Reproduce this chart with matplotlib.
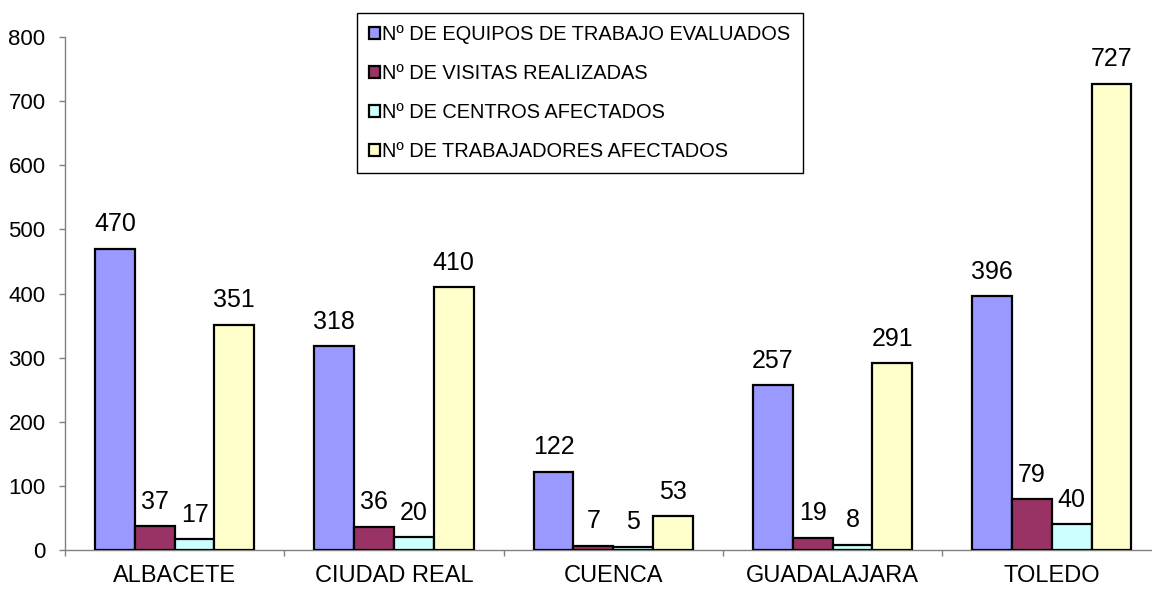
import matplotlib
matplotlib.use("Agg")
import matplotlib.pyplot as plt
import numpy as np

plt.rcParams['font.family'] = ['Liberation Sans', 'DejaVu Sans']

categories = ["ALBACETE", "CIUDAD REAL", "CUENCA", "GUADALAJARA", "TOLEDO"]
series_names = ["Nº DE EQUIPOS DE TRABAJO EVALUADOS",
                "Nº DE VISITAS REALIZADAS",
                "Nº DE CENTROS AFECTADOS",
                "Nº DE TRABAJADORES AFECTADOS"]
equipos = [470, 318, 122, 257, 396]
visitas = [37, 36, 7, 19, 79]
centros = [17, 20, 5, 8, 40]
trabajadores = [351, 410, 53, 291, 727]
colors = ["#9999FF", "#993366", "#CCFFFF", "#FFFFCC"]
yticks = [0, 100, 200, 300, 400, 500, 600, 700, 800]

W, H = 1152, 591
fig = plt.figure(figsize=(W / 100, H / 100), dpi=100)
ax_left, ax_right = 65, 65 + 5 * 219.3
ax_top, ax_bot = 37, 550
ax = fig.add_axes([ax_left / W, 1 - ax_bot / H, (ax_right - ax_left) / W, (ax_bot - ax_top) / H])

x = np.arange(len(categories))
bw = 0.1815
all_series = [equipos, visitas, centros, trabajadores]
for i, (vals, name, c) in enumerate(zip(all_series, series_names, colors)):
    pos = x + (i - 1.5) * bw
    ax.bar(pos, vals, width=bw, color=c, edgecolor="black", linewidth=1.6,
           label=name, zorder=3)
    for p, v in zip(pos, vals):
        ax.annotate(str(v), (p, v), xytext=(0, 9), textcoords="offset points",
                    ha="center", va="bottom", fontsize=18)

ax.set_xlim(-0.5, len(categories) - 0.5)
ax.set_ylim(0, 800)
ax.set_yticks(yticks)
ax.set_yticklabels([str(t) for t in yticks], fontsize=16)
ax.tick_params(axis='y', direction='out', length=4, width=1, color='#808080', pad=10)

ax.set_xticks(x)
ax.set_xticklabels(categories, fontsize=17)
ax.set_xticks(np.arange(len(categories) + 1) - 0.5, minor=True)
ax.tick_params(axis='x', which='major', length=0, pad=11)
ax.tick_params(axis='x', which='minor', direction='out', length=4, width=1, color='#808080')

for s in ['top', 'right']:
    ax.spines[s].set_visible(False)
for s in ['left', 'bottom']:
    ax.spines[s].set_color('#808080')
    ax.spines[s].set_linewidth(1)

leg = fig.legend(loc='upper left', bbox_to_anchor=(357 / W, 1 - 13 / H), fontsize=14.4,
                 frameon=True, fancybox=False, edgecolor='black', framealpha=1,
                 handlelength=0.55, handleheight=0.55, handletextpad=0.12,
                 labelspacing=1.0, borderpad=0.6, borderaxespad=0)
leg.get_frame().set_linewidth(1)

fig.savefig("out.png", dpi=100)
